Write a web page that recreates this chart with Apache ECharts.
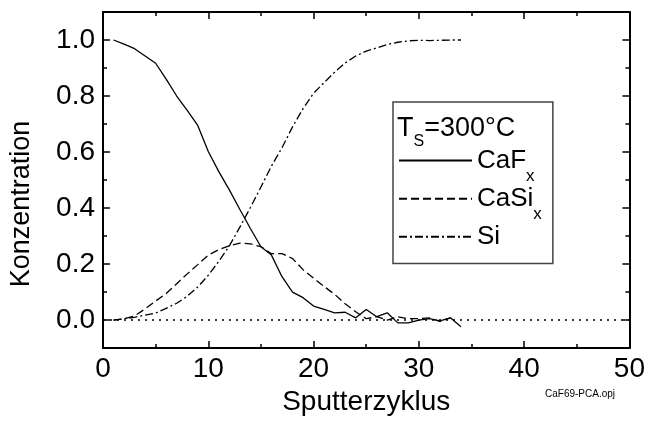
<!DOCTYPE html>
<html>
<head>
<meta charset="utf-8">
<script src="https://cdn.jsdelivr.net/npm/echarts@6/dist/echarts.min.js"></script>
<style>html,body{margin:0;padding:0;background:#fff}#c{width:648px;height:421px}</style>
</head>
<body>
<div id="c"></div>
<script>
const cycles = [1,2,3,4,5,6,7,8,9,10,11,12,13,14,15,16,17,18,19,20,21,22,23,24,25,26,27,28,29,30,31,32,33,34];
const cafx = [1.0,0.985,0.969,0.943,0.917,0.86,0.80,0.749,0.695,0.602,0.53,0.465,0.395,0.327,0.262,0.232,0.155,0.10,0.08,0.05,0.038,0.026,0.028,0.008,0.038,0.012,0.026,-0.01,-0.01,0.0,0.005,-0.003,0.008,-0.024];
const casix = [0.0,0.005,0.015,0.04,0.068,0.095,0.13,0.165,0.198,0.232,0.252,0.265,0.275,0.272,0.262,0.237,0.237,0.22,0.18,0.15,0.12,0.092,0.058,0.03,0.005,0.012,0.0,0.012,0.005,0.005,0.008,-0.005,0.008];
const si = [0.0,0.005,0.01,0.018,0.025,0.042,0.06,0.085,0.118,0.16,0.21,0.265,0.332,0.402,0.475,0.55,0.615,0.69,0.755,0.81,0.848,0.885,0.918,0.943,0.96,0.972,0.984,0.992,0.997,0.999,0.998,0.999,1.0,1.0];
const seriesNames = ['CaFx','CaSix','Si'];
const legendLabels = {CaFx:'CaF{sub|x}', CaSix:'CaSi{sub|x}', Si:'Si'};
const xTitle = 'Sputterzyklus';
const yTitle = 'Konzentration';
const legendTitle = 'T{sub|S}=300°C';
const fileTag = 'CaF69-PCA.opj';

const FONT = 'Liberation Sans, Arial, sans-serif';
const pairs = (vals) => vals.map((v,i)=>[cycles[i], v]);

const baseAxis = {
  axisLine:{show:true, onZero:false, lineStyle:{color:'#000', width:2}},
  axisTick:{show:true, inside:true, length:7, lineStyle:{color:'#000', width:1.5}},
  minorTick:{show:true, splitNumber:2, length:4, lineStyle:{color:'#000', width:1.5}},
  splitLine:{show:false}, minorSplitLine:{show:false}
};

const chart = echarts.init(document.getElementById('c'), null, {renderer:'canvas'});
chart.setOption({
  animation:false,
  backgroundColor:'#fff',
  grid:{left:102, right:16, top:12, bottom:68},
  title:[
    {text:legendTitle, left:392, top:102, textStyle:{fontFamily:FONT, fontSize:27, fontWeight:'normal', color:'#000', rich:{sub:{fontFamily:FONT, fontSize:16, color:'#000', padding:[27,0,0,0]}}}},
    {text:fileTag, left:540, top:384, textStyle:{fontFamily:FONT, fontSize:10, fontWeight:'normal', color:'#000'}}
  ],
  legend:{
    data:seriesNames, orient:'vertical', left:393, top:102,
    padding:[45,11,13,5], itemGap:0, itemWidth:73, itemHeight:34,
    borderColor:'#444', borderWidth:1.5, backgroundColor:'#fff',
    itemStyle:{color:'rgba(0,0,0,0)', borderWidth:0, opacity:0},
    formatter:(n)=>legendLabels[n],
    textStyle:{fontFamily:FONT, fontSize:26, color:'#000', rich:{sub:{fontFamily:FONT, fontSize:17, color:'#000', padding:[32,0,0,0]}}}
  },
  xAxis:[
    Object.assign({}, baseAxis, {type:'value', min:0, max:50, interval:10, position:'bottom',
      name:xTitle, nameLocation:'middle', nameGap:38,
      nameTextStyle:{fontFamily:FONT, fontSize:28, color:'#000'},
      axisLabel:{fontFamily:FONT, fontSize:28, color:'#000', margin:7}}),
    Object.assign({}, baseAxis, {type:'value', min:0, max:50, interval:10, position:'top',
      axisLabel:{show:false}})
  ],
  yAxis:[
    Object.assign({}, baseAxis, {type:'value', min:-0.1, max:1.1, splitNumber:6, position:'left',
      name:yTitle, nameLocation:'middle', nameGap:68, nameRotate:90,
      nameTextStyle:{fontFamily:FONT, fontSize:27, color:'#000', padding:[0,48,0,0]},
      axisLabel:{fontFamily:FONT, fontSize:28, color:'#000', margin:8, showMinLabel:false, showMaxLabel:false,
        formatter:(v)=>v.toFixed(1)}}),
    Object.assign({}, baseAxis, {type:'value', min:-0.1, max:1.1, splitNumber:6, position:'right',
      axisLabel:{show:false}})
  ],
  series:[
    {name:'CaFx', type:'line', data:pairs(cafx), symbol:'none', showSymbol:false, color:'#000',
      lineStyle:{color:'#000', width:1.3, type:'solid'},
      markLine:{silent:true, symbol:['none','none'], label:{show:false},
        lineStyle:{color:'#000', type:[2,5], width:1.5}, data:[{yAxis:0}]}},
    {name:'CaSix', type:'line', data:pairs(casix), symbol:'none', showSymbol:false, color:'#000',
      lineStyle:{color:'#000', width:1.3, type:[8,4]}},
    {name:'Si', type:'line', data:pairs(si), symbol:'none', showSymbol:false, color:'#000',
      lineStyle:{color:'#000', width:1.3, type:[8,3,2,3]}}
  ]
});
</script>
</body>
</html>
